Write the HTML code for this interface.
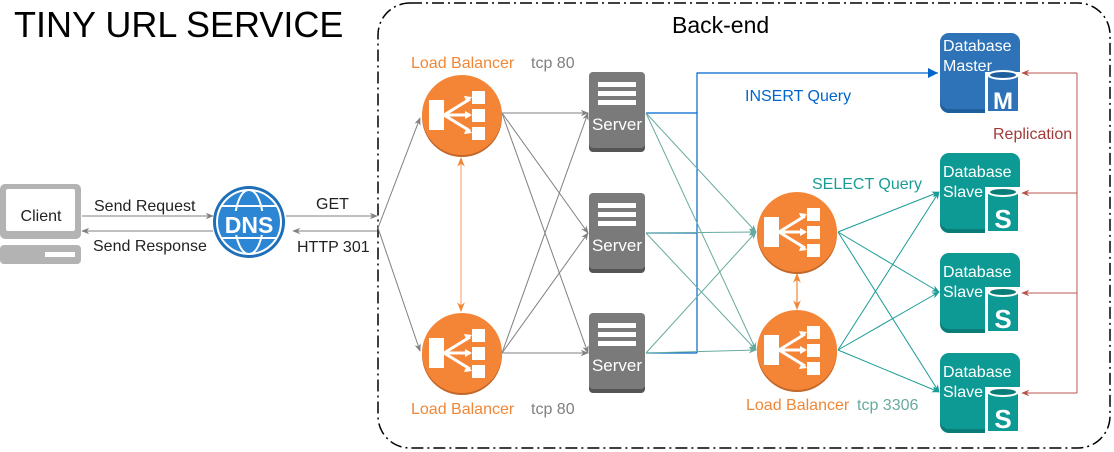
<!DOCTYPE html>
<html><head><meta charset="utf-8"><style>
html,body{margin:0;padding:0;background:#fff;}
svg{display:block;font-family:"Liberation Sans",Arial,sans-serif;}
</style></head><body>
<svg width="1114" height="452" viewBox="0 0 1114 452" xmlns="http://www.w3.org/2000/svg">
<defs>
<marker id="ag" viewBox="0 0 10 10" refX="9" refY="5" markerWidth="8" markerHeight="8" orient="auto-start-reverse"><path d="M0,1 L10,5 L0,9 L3,5z" fill="#808080"/></marker>
<marker id="at" viewBox="0 0 10 10" refX="9" refY="5" markerWidth="8" markerHeight="8" orient="auto-start-reverse"><path d="M0,1 L10,5 L0,9 L3,5z" fill="#1a9c96"/></marker>
<marker id="atl" viewBox="0 0 10 10" refX="9" refY="5" markerWidth="8" markerHeight="8" orient="auto-start-reverse"><path d="M0,1 L10,5 L0,9 L3,5z" fill="#67ab9f"/></marker>
<marker id="ar" viewBox="0 0 10 10" refX="9" refY="5" markerWidth="8" markerHeight="8" orient="auto"><path d="M0,1 L10,5 L0,9 L3,5z" fill="#b85450"/></marker>
<marker id="ao" viewBox="0 0 10 10" refX="9" refY="5" markerWidth="8" markerHeight="8" orient="auto-start-reverse"><path d="M0,1 L10,5 L0,9 L3,5z" fill="#f08737"/></marker>
<g id="lb">
<circle cx="0" cy="2" r="40" fill="#c2672a"/>
<circle cx="0" cy="0" r="40" fill="#f58536"/>
<rect x="-33" y="-15" width="15" height="30" fill="#fff"/>
<rect x="10" y="-24" width="13" height="13" fill="#fff"/>
<rect x="10" y="-6" width="13" height="13" fill="#fff"/>
<rect x="10" y="12" width="13" height="13" fill="#fff"/>
<path d="M-18,0 L8,-16 M-18,0 L8,0 M-18,0 L8,16" stroke="#fff" stroke-width="3"/>
<path d="M10,-18 L2,-19 L5,-12z M10,0 L3,-4 L3,4z M10,18 L5,12 L2,19z" fill="#fff"/>
</g>
<g id="srv">
<rect x="0" y="2" width="56" height="78" rx="4" fill="#555"/>
<rect x="0" y="0" width="56" height="76" rx="4" fill="#7a7a7a"/>
<rect x="9" y="10" width="38" height="5" fill="#fff"/>
<rect x="9" y="19" width="38" height="5" fill="#fff"/>
<rect x="9" y="28" width="38" height="5" fill="#fff"/>
<text x="28" y="58" font-size="17" fill="#fff" text-anchor="middle">Server</text>
</g>
<g id="slave">
<rect x="940" y="155" width="80" height="78" rx="9" fill="#0b7d78"/>
<rect x="940" y="153" width="80" height="76" rx="9" fill="#0e9a94"/>
<text x="943" y="177" font-size="16" fill="#fff">Database</text>
<text x="943" y="197" font-size="16" fill="#fff">Slave</text>
<rect x="985" y="187" width="36" height="47" fill="#fff"/>
<rect x="988" y="190" width="30" height="41" fill="#0e9a94"/>
<ellipse cx="1003" cy="192" rx="16" ry="5" fill="#fff"/>
<ellipse cx="1003" cy="192" rx="13" ry="3" fill="#0b7d78"/>
<text x="1003" y="228" font-size="26" font-weight="bold" fill="#fff" text-anchor="middle">S</text>
</g>
</defs>

<text x="14" y="37" font-size="36" fill="#000">TINY URL SERVICE</text>
<rect x="378" y="3" width="732" height="445" rx="32" fill="none" stroke="#000" stroke-width="1.5" stroke-dasharray="12,4,2,4"/>
<text x="672" y="33" font-size="23" fill="#000">Back-end</text>

<!-- client -->
<rect x="0" y="184" width="81" height="55" rx="5" fill="#b3b3b3"/>
<rect x="6" y="189" width="69" height="42" rx="2" fill="#fff"/>
<text x="41" y="221" font-size="16" fill="#222" text-anchor="middle">Client</text>
<rect x="0" y="245" width="81" height="19" rx="4" fill="#b3b3b3"/>
<rect x="45" y="252" width="30" height="5" fill="#fff"/>

<line x1="82" y1="216" x2="213" y2="216" stroke="#808080" marker-end="url(#ag)"/>
<line x1="213" y1="231" x2="82" y2="231" stroke="#808080" marker-end="url(#ag)"/>
<text x="94" y="211" font-size="16" fill="#222">Send Request</text>
<text x="93" y="251" font-size="16" fill="#222">Send Response</text>

<!-- DNS -->
<circle cx="249" cy="222" r="36" fill="#1e6fb8"/>
<circle cx="249" cy="222" r="32" fill="#2d86d4" stroke="#fff" stroke-width="2"/>
<ellipse cx="249" cy="222" rx="14" ry="32" fill="none" stroke="#fff" stroke-width="2"/>
<line x1="221" y1="206" x2="277" y2="206" stroke="#fff" stroke-width="2"/>
<line x1="221" y1="238" x2="277" y2="238" stroke="#fff" stroke-width="2"/>
<rect x="224" y="211" width="50" height="24" fill="#2d86d4"/>
<text x="249" y="233" font-size="23" font-weight="bold" fill="#fff" text-anchor="middle">DNS</text>

<line x1="286" y1="216" x2="377" y2="216" stroke="#808080" marker-end="url(#ag)"/>
<line x1="377" y1="231" x2="293" y2="231" stroke="#808080" marker-end="url(#ag)"/>
<text x="316" y="209" font-size="16" fill="#222">GET</text>
<text x="297" y="252" font-size="16" fill="#222">HTTP 301</text>

<!-- gray lines -->
<g stroke="#808080" fill="none">
<line x1="378" y1="228" x2="420" y2="118" marker-end="url(#ag)"/>
<line x1="378" y1="228" x2="420" y2="351" marker-end="url(#ag)"/>
<g marker-end="url(#ag)">
<line x1="502" y1="113" x2="588" y2="113"/>
<line x1="502" y1="113" x2="588" y2="233"/>
<line x1="502" y1="113" x2="588" y2="353"/>
<line x1="502" y1="353" x2="588" y2="113"/>
<line x1="502" y1="353" x2="588" y2="233"/>
<line x1="502" y1="353" x2="588" y2="353"/>
</g>
</g>
<line x1="461" y1="158" x2="461" y2="311" stroke="#f5a97a" stroke-width="1.2" marker-start="url(#ao)" marker-end="url(#ao)"/>

<!-- blue insert -->
<path d="M646,113 H697 M646,233 H697 M646,353 H697 M697,353 V73 H938" stroke="#0066cc" fill="none" stroke-width="1.2"/>
<path d="M928,68 L938,73 L928,78z" fill="#0066cc"/>
<text x="745" y="101" font-size="16" fill="#0066cc">INSERT Query</text>

<!-- teal server->LB -->
<g stroke="#67ab9f" fill="none" marker-end="url(#atl)">
<line x1="646" y1="113" x2="756" y2="232"/>
<line x1="646" y1="113" x2="756" y2="350"/>
<line x1="646" y1="233" x2="756" y2="232"/>
<line x1="646" y1="233" x2="756" y2="350"/>
<line x1="646" y1="353" x2="756" y2="232"/>
<line x1="646" y1="353" x2="756" y2="350"/>
</g>

<!-- teal LB->slave -->
<g stroke="#1a9c96" fill="none" marker-end="url(#at)">
<line x1="838" y1="232" x2="939" y2="192"/>
<line x1="838" y1="232" x2="939" y2="292"/>
<line x1="838" y1="232" x2="939" y2="392"/>
<line x1="838" y1="350" x2="939" y2="192"/>
<line x1="838" y1="350" x2="939" y2="292"/>
<line x1="838" y1="350" x2="939" y2="392"/>
</g>
<text x="812" y="189" font-size="16" fill="#1a9c96">SELECT Query</text>
<line x1="797" y1="274" x2="797" y2="309" stroke="#f08737" stroke-width="1.2" marker-start="url(#ao)" marker-end="url(#ao)"/>

<!-- LBs -->
<use href="#lb" x="462" y="115"/>
<use href="#lb" x="462" y="353"/>
<use href="#lb" x="797" y="232"/>
<use href="#lb" x="797" y="350"/>
<text x="411" y="68" font-size="16" fill="#f08737">Load Balancer</text>
<text x="531" y="68" font-size="16" fill="#808080">tcp 80</text>
<text x="411" y="414" font-size="16" fill="#f08737">Load Balancer</text>
<text x="531" y="414" font-size="16" fill="#808080">tcp 80</text>
<text x="746" y="410" font-size="16" fill="#f08737">Load Balancer</text>
<text x="857" y="410" font-size="16" fill="#67ab9f">tcp 3306</text>

<!-- servers -->
<use href="#srv" x="589" y="72"/>
<use href="#srv" x="589" y="193"/>
<use href="#srv" x="589" y="313"/>

<!-- databases -->
<rect x="940" y="35" width="80" height="78" rx="9" fill="#1f5f9e"/>
<rect x="940" y="33" width="80" height="76" rx="9" fill="#2e73b8"/>
<text x="943" y="51" font-size="16" fill="#fff">Database</text>
<text x="943" y="71" font-size="16" fill="#fff">Master</text>
<rect x="985" y="72" width="36" height="42" fill="#fff"/>
<rect x="988" y="75" width="30" height="36" fill="#2e73b8"/>
<ellipse cx="1003" cy="75" rx="16" ry="5" fill="#fff"/>
<ellipse cx="1003" cy="75" rx="13" ry="3" fill="#1f5f9e"/>
<text x="1003" y="109" font-size="24" font-weight="bold" fill="#fff" text-anchor="middle">M</text>

<use href="#slave"/>
<use href="#slave" y="100"/>
<use href="#slave" y="200"/>

<!-- replication -->
<g stroke="#b85450" fill="none">
<line x1="1077" y1="73" x2="1077" y2="393"/>
<line x1="1077" y1="73" x2="1022" y2="73" marker-end="url(#ar)"/>
<line x1="1077" y1="193" x2="1022" y2="193" marker-end="url(#ar)"/>
<line x1="1077" y1="293" x2="1022" y2="293" marker-end="url(#ar)"/>
<line x1="1077" y1="393" x2="1022" y2="393" marker-end="url(#ar)"/>
</g>
<text x="993" y="139" font-size="16" fill="#a33a3a">Replication</text>
</svg>
</body></html>
